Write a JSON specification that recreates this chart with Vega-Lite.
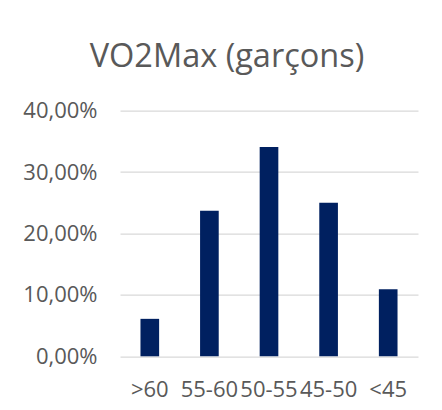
{
  "$schema": "https://vega.github.io/schema/vega-lite/v6.json",
  "autosize": "none",
  "width": 298,
  "height": 245.6,
  "padding": {"left": 120, "top": 110.7, "right": 24, "bottom": 53.7},
  "background": "#ffffff",
  "title": {
    "text": "VO2Max (garçons)",
    "font": "Open Sans",
    "fontSize": 32.5,
    "fontWeight": "normal",
    "color": "#595959",
    "anchor": "middle",
    "dx": -42,
    "baseline": "alphabetic",
    "offset": 0
  },
  "data": {
    "values": [
      {"categorie": ">60", "pourcentage": 0.061},
      {"categorie": "55-60", "pourcentage": 0.237},
      {"categorie": "50-55", "pourcentage": 0.341},
      {"categorie": "45-50", "pourcentage": 0.25},
      {"categorie": "<45", "pourcentage": 0.109}
    ]
  },
  "mark": {"type": "bar", "color": "#002060"},
  "encoding": {
    "x": {
      "field": "categorie",
      "type": "nominal",
      "sort": null,
      "scale": {"paddingInner": 0.687, "paddingOuter": 0.3435},
      "axis": {
        "title": null,
        "labelAngle": 0,
        "labelFont": "Open Sans",
        "labelFontSize": 22,
        "labelColor": "#595959",
        "labelBaseline": "alphabetic",
        "labelPadding": 40,
        "labelOverlap": false,
        "ticks": false,
        "domain": false,
        "grid": false
      }
    },
    "y": {
      "field": "pourcentage",
      "type": "quantitative",
      "scale": {"domain": [0, 0.4], "nice": false},
      "axis": {
        "title": null,
        "values": [0, 0.1, 0.2, 0.3, 0.4],
        "labelExpr": "replace(format(datum.value, '.2%'), '.', ',')",
        "labelFont": "Open Sans",
        "labelFontSize": 22,
        "labelColor": "#595959",
        "labelPadding": 23,
        "ticks": false,
        "domain": false,
        "grid": true,
        "gridColor": "#D9D9D9",
        "gridWidth": 1.3
      }
    }
  },
  "config": {"view": {"stroke": null}}
}
